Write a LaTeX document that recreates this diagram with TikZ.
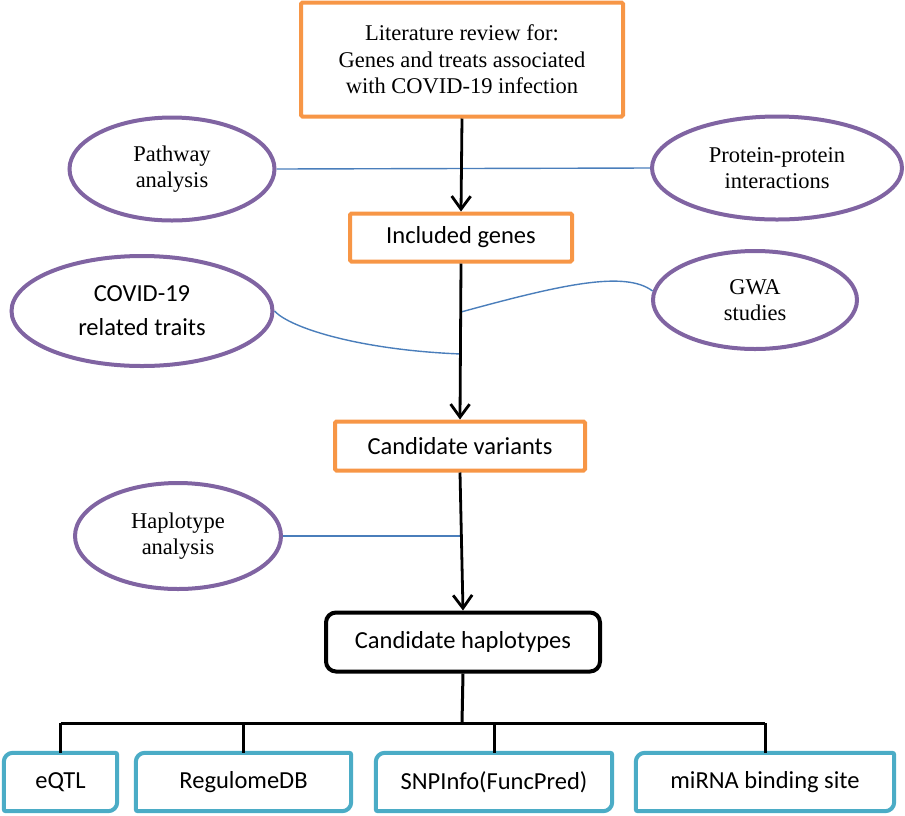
\documentclass[tikz,border=0pt]{standalone}
\usepackage{fontspec}
\setmainfont{Liberation Serif}
\newfontfamily\calfont{Carlito}
\usetikzlibrary{arrows.meta,shapes.geometric}
\definecolor{orng}{HTML}{F79646}
\definecolor{purp}{HTML}{8064A2}
\definecolor{bl}{HTML}{4A7EBB}
\definecolor{tl}{HTML}{4BACC6}
\tikzset{
  serift/.style={font=\fontsize{22.5}{26.5}\selectfont, align=center},
  sanst/.style={font=\calfont\fontsize{24.5}{34}\selectfont, align=center},
  obox/.style={draw=orng, line width=4pt, rounded corners=1.5pt, inner sep=0pt, fill=white},
  ell/.style={ellipse, draw=purp, line width=4pt, inner sep=0pt},
  hbox/.style={draw=black, line width=4pt, rounded corners=10pt, inner sep=0pt},
  bbox/.style={inner sep=0pt, sanst},
  cbox/.style={draw=tl, line width=4pt},
  arr/.style={draw=black, line width=2.8pt, -{Straight Barb[length=13pt,width=19pt,line width=2.8pt]}},
  bline/.style={draw=bl, line width=1.4pt},
  tline/.style={draw=black, line width=3pt},
}
\begin{document}
\begin{tikzpicture}[x=1pt,y=-1pt]
\useasboundingbox (0,0) rectangle (905,815);
% main boxes
\node[obox, serift, minimum width=322pt, minimum height=114pt] (lit) at (462,59.5)
  {Literature review for:\\Genes and treats associated\\with COVID-19 infection};
\node[obox, sanst, minimum width=222pt, minimum height=48pt] (inc) at (461,237.5) {Included genes};
\node[obox, sanst, minimum width=250pt, minimum height=49pt] (var) at (460,446) {Candidate variants};
\node[hbox, sanst, minimum width=274pt, minimum height=59pt] (hapc) at (463,642) {Candidate haplotypes};
% ellipses
\node[ell, serift, minimum width=205pt, minimum height=103pt] (path) at (172,169) {Pathway\\analysis};
\node[ell, serift, minimum width=250pt, minimum height=103pt] (prot) at (777,168) {Protein-protein\\interactions};
\node[ell, sanst, minimum width=261pt, minimum height=110pt] (covid) at (142,311) {COVID-19\\related traits};
\node[ell, serift, minimum width=204pt, minimum height=98pt] (gwa) at (755,300) {GWA\\studies};
\node[ell, serift, minimum width=206pt, minimum height=106pt] (hapl) at (178,536) {Haplotype\\analysis};
% bottom boxes
\node[bbox, minimum width=113pt, minimum height=58pt] (eqtl) at (60.5,782) {eQTL};
\node[bbox, minimum width=215pt, minimum height=58pt] (reg) at (243.5,782) {RegulomeDB};
\node[bbox, minimum width=236pt, minimum height=58pt] (snp) at (494,782) {SNPInfo(FuncPred)};
\node[bbox, minimum width=258pt, minimum height=58pt] (mir) at (765,782) {miRNA binding site};
\foreach \b in {eqtl,reg,snp,mir}{
  \draw[cbox] (\b.west) [rounded corners=9pt] -- (\b.north west) -- (\b.north)
    [rounded corners=2pt] -- (\b.north east) -- (\b.east)
    [rounded corners=9pt] -- (\b.south east) -- (\b.south)
    [rounded corners=2pt] -- (\b.south west) -- cycle;
}
% junction coordinates on the main arrows
\coordinate (j1) at (461,354);
\coordinate (j2) at (461,312);
\coordinate (j3) at (461,536);
\coordinate (bar) at (462,723);
% side connectors
\draw[bline] (path.east) -- (prot.west);
\draw[bline] (covid.east) .. controls (290,328) and (360,350) .. (j1);
\draw[bline] (j2) .. controls (560,285) and (625,270) .. (gwa.175);
\draw[bline] (hapl.east) -- (j3);
% main arrows
\draw[arr] (lit.south) -- (inc.north);
\draw[arr] (inc.south) -- (var.north);
\draw[arr] (var.south) -- (hapc.north);
% bottom tree
\draw[tline] (hapc.south) -- (bar);
\draw[tline] (eqtl.north |- bar) -- (mir.north |- bar);
\foreach \b in {eqtl,reg,snp,mir}{
  \draw[tline] (\b.north |- bar) -- (\b.north);
}
\end{tikzpicture}
\end{document}
